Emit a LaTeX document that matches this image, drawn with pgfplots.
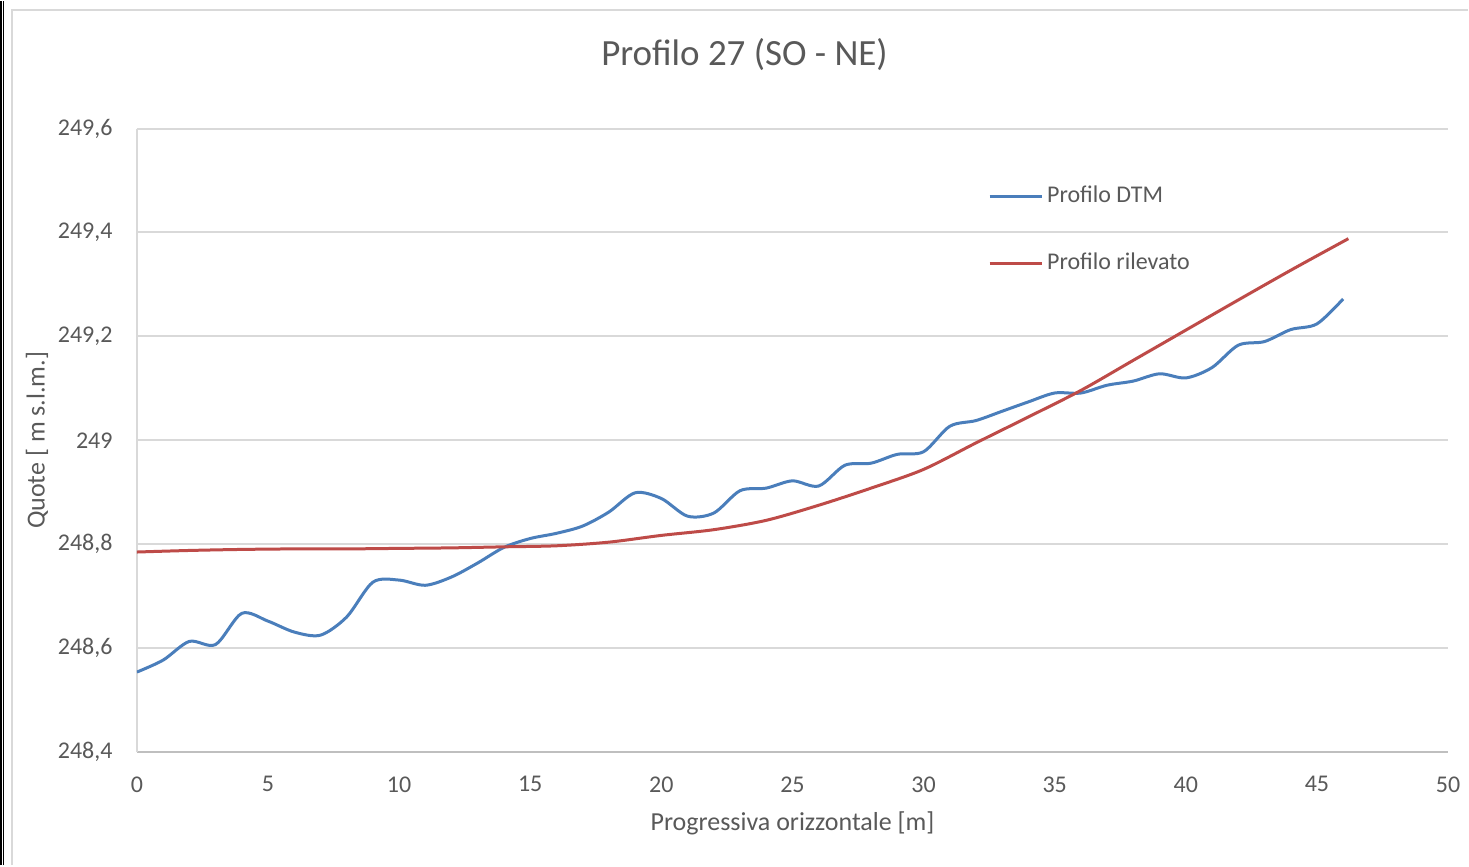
\documentclass[border=0pt]{standalone}
\usepackage{fontspec}
\setmainfont{Carlito}
\usepackage{pgfplots}
\pgfplotsset{compat=1.18}
\definecolor{dtm}{HTML}{4A7EBB}
\definecolor{ril}{HTML}{BE4B48}
\definecolor{txt}{HTML}{595959}
\definecolor{grd}{HTML}{D9D9D9}
\definecolor{axl}{HTML}{BFBFBF}
\begin{document}
\begin{tikzpicture}
% background and frame (1 px = 0.5 pt)
\fill[white] (0,0) rectangle (734.5pt,432.5pt);
\draw[black, line width=0.6pt] (0.5pt,0) -- (0.5pt,432.5pt);
\draw[black, line width=0.6pt] (1.7pt,0) -- (1.7pt,432.5pt);
\draw[grd, line width=1pt] (6pt,0) -- (6pt,428pt) -- (734.5pt,428pt);
\node[anchor=base, text=txt, font=\fontsize{18.5pt}{22pt}\selectfont] at (372.5pt,400pt) {Profilo 27 (SO - NE)};
\begin{axis}[
  at={(68.5pt,56.5pt)}, anchor=south west,
  scale only axis, width=656pt, height=312pt,
  xmin=0, xmax=50, ymin=248.4, ymax=249.6,
  xtick={0,5,10,15,20,25,30,35,40,45,50},
  ytick={248.4,248.6,248.8,249,249.2,249.4,249.6},
  yticklabels={{248,4},{248,6},{248,8},{249},{249,2},{249,4},{249,6}},
  axis lines*=left,
  x axis line style={axl, line width=1pt},
  y axis line style={grd, line width=1pt},
  ymajorgrids, grid style={grd, line width=1pt},
  major tick length=0pt,
  tick label style={text=txt, font=\fontsize{12pt}{14pt}\selectfont, inner sep=0pt},
  /pgf/number format/assume math mode=true,
  xticklabel style={anchor=north, yshift=-12pt},
  yticklabel style={anchor=east, xshift=-12pt},
  xlabel={Progressiva orizzontale [m]},
  ylabel={Quote [ m s.l.m.]},
  label style={text=txt, font=\fontsize{13pt}{15pt}\selectfont},
  xlabel style={at={(axis description cs:0.5,-0.1138)}, anchor=center},
  ylabel style={at={(axis description cs:-0.0762,0.5)}, anchor=center, rotate=0},
  legend style={draw=none, fill=none, at={(axis cs:32.45,249.405)}, anchor=west,
    inner sep=0pt, row sep=21.5pt, text=txt,
    font=\fontsize{12pt}{14pt}\selectfont,
    nodes={inner sep=0pt, text height=9pt, text depth=3pt}},
  legend cell align=left,
  legend image code/.code={\draw[#1] (0pt,0pt) -- (26pt,0pt);},
  /tikz/every odd column/.append style={column sep=2pt},
]
\addplot[dtm, line width=1.5pt, smooth, tension=0.5] coordinates {
(0,248.554) (1,248.577) (2,248.613) (3,248.607) (4,248.667) (5,248.652)
(6,248.631) (7,248.625) (8,248.660) (9,248.727) (10,248.731) (11,248.721)
(12,248.737) (13,248.764) (14,248.794) (15,248.811) (16,248.821) (17,248.835)
(18,248.862) (19,248.899) (20,248.888) (21,248.854) (22,248.860) (23,248.903)
(24,248.908) (25,248.922) (26,248.912) (27,248.952) (28,248.956) (29,248.973)
(30,248.978) (31,249.027) (32,249.038) (33,249.056) (34,249.074) (35,249.091)
(36,249.091) (37,249.106) (38,249.114) (39,249.128) (40,249.120) (41,249.140)
(42,249.183) (43,249.190) (44,249.213) (45,249.224) (46,249.272)
};
\addlegendentry{Profilo DTM}
\addplot[ril, line width=1.5pt, smooth, tension=0.5] coordinates {
(0,248.785) (2,248.788) (4,248.790) (6,248.791) (8,248.791) (10,248.792)
(12,248.793) (14,248.795) (16,248.797) (18,248.804) (20,248.817) (22,248.828)
(24,248.846) (26,248.875) (28,248.908) (30,248.944) (32,248.995) (34,249.045)
(36,249.096) (38,249.154) (40,249.212) (42,249.270) (44.1,249.330) (46.2,249.388)
};
\addlegendentry{Profilo rilevato}
\end{axis}
\end{tikzpicture}
\end{document}
